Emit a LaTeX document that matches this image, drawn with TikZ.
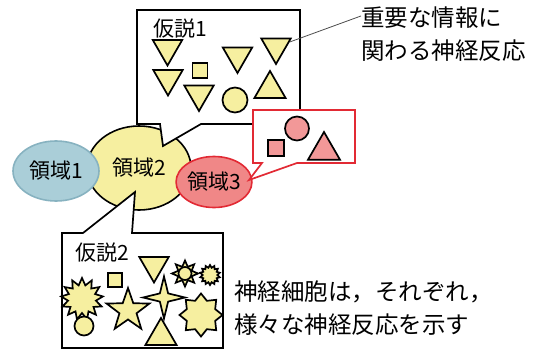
\documentclass[tikz,border=0pt]{standalone}
\usepackage{fontspec}
\setmainfont{Noto Sans CJK JP}
\usetikzlibrary{shapes.geometric}

\definecolor{areayellow}{RGB}{246,239,160}
\definecolor{areablue}{RGB}{170,206,216}
\definecolor{areablueline}{RGB}{135,178,192}
\definecolor{areared}{RGB}{240,135,135}
\definecolor{arealine}{RGB}{226,42,52}
\definecolor{shapepink}{RGB}{242,152,152}

\begin{document}
\begin{tikzpicture}[x=1pt, y=-1pt,
    balloon/.style={draw, line width=1.7pt, fill=white, line join=miter},
    tag/.style={inner sep=0pt, font=\fontsize{21}{25}\selectfont},
    note/.style={inner sep=0pt, align=left, anchor=west, font=\fontsize{23.5}{33}\selectfont},
    fig/.style={draw, line width=1.7pt, fill=areayellow, inner sep=0pt},
    tridown/.style={fig, regular polygon, regular polygon sides=3, shape border rotate=180, minimum size=34pt},
    triup/.style={fig, regular polygon, regular polygon sides=3, minimum size=36pt},
    sq/.style={fig, rectangle, minimum size=15pt},
    ball/.style={fig, circle, minimum size=25pt},
    burst/.style={fig, star}]
    \useasboundingbox (0,0) rectangle (539,351);

    \node[ellipse, draw, line width=1.6pt, fill=areayellow, minimum width=104pt, minimum height=84pt, tag] (r2) at (139,168) {領域2};
    \node[ellipse, draw=areablueline, line width=1.6pt, fill=areablue, minimum width=86pt, minimum height=60pt, tag] (r1) at (56,171) {領域1};
    \node[ellipse, draw=arealine, line width=1.6pt, fill=areared, minimum width=74pt, minimum height=51pt, tag] (r3) at (214,182) {領域3};

    \draw[balloon] (137,10) -- (300,10) -- (300,124) -- (201,124) -- (163,146) -- (160,124) -- (137,124) -- cycle;
    \node[tridown] (s1) at (167.5,48.5) {};
    \node[tridown] (s2) at (168,78.5) {};
    \node[sq] (s3) at (200,70.5) {};
    \node[tridown] (s4) at (199,94) {};
    \node[tridown] (s5) at (237.5,56) {};
    \node[tridown] (s6) at (276,47) {};
    \node[triup] (s7) at (270,89) {};
    \node[ball] (s8) at (235,100) {};
    \node[tag] (h1) at (180,29) {仮説1};

    \draw[balloon, draw=arealine] (253,110) -- (355,110) -- (355,163) -- (297,163) -- (249,180) -- (262,163) -- (253,163) -- cycle;
    \node[sq, fill=shapepink, minimum size=16pt] (s20) at (276,148) {};
    \node[ball, fill=shapepink, minimum size=24pt] (s21) at (297,128.5) {};
    \node[triup, fill=shapepink, minimum size=37pt] (s22) at (324,150.5) {};

    \draw[balloon] (62,233) -- (83,233) -- (135,192) -- (132,233) -- (223,233) -- (223,348) -- (62,348) -- cycle;
    \node[burst, star points=13, star point ratio=1.5, minimum size=42pt] (s9) at (82,299) {};
    \node[sq, minimum size=14pt] (s10) at (115,280) {};
    \node[tridown] (s11) at (154,265.5) {};
    \node[burst, star points=8, star point ratio=1.8, minimum size=26pt] (s12) at (185,273.5) {};
    \node[ball, minimum size=13pt] (s13) at (185,273.5) {};
    \node[burst, star points=14, star point ratio=1.35, minimum size=20pt] (s14) at (210,275) {};
    \node[burst, star points=5, star point ratio=2.5, minimum size=45pt] (s15) at (128,310.5) {};
    \node[burst, star points=4, star point ratio=3.6, minimum size=42pt] (s16) at (164,297.5) {};
    \node[burst, star points=8, star point ratio=1.4, minimum size=43pt] (s17) at (201,315) {};
    \node[ball, minimum size=19pt] (s18) at (84,326) {};
    \node[triup] (s19) at (161,336) {};
    \node[tag] (h2) at (102,253) {仮説2};

    \node[note] (n1) at (361,34.5) {重要な情報に\\関わる神経反応};
    \node[note] (n2) at (234,308) {神経細胞は，それぞれ，\\様々な神経反応を示す};

    \draw[line width=0.8pt, black!70] ([yshift=-9pt]n1.north west) -- (s6);
\end{tikzpicture}
\end{document}
